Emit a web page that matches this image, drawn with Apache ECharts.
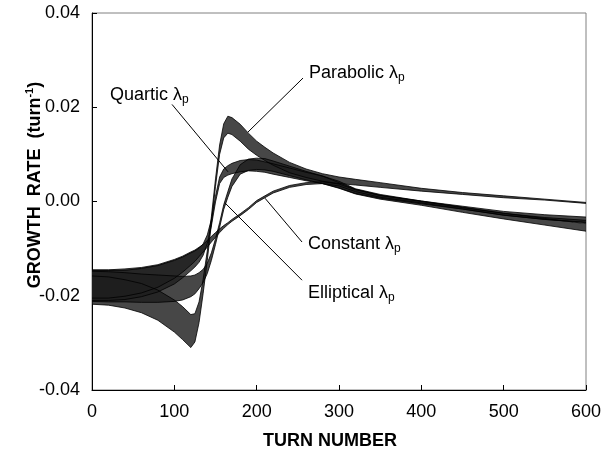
<!DOCTYPE html>
<html>
<head>
<meta charset="utf-8">
<script src="https://cdn.jsdelivr.net/npm/echarts@6/dist/echarts.min.js"></script>
<style>
html,body{margin:0;padding:0;background:#fff;}
#chart{width:613px;height:453px;}
</style>
</head>
<body>
<div id="chart"></div>
<script>
// ---- data ----
const turns = [0,20,40,60,80,100,110,120,125,130,135,140,145,150,155,160,165,170,180,190,200,210,220,240,260,280,300,320,350,400,450,500,550,600];

const parabolicMid  = [-0.0188,-0.0190,-0.0196,-0.0205,-0.0220,-0.0243,-0.0258,-0.0275,-0.0268,-0.0235,-0.0180,-0.0115,-0.0040,0.0040,0.0110,0.0150,0.0163,0.0160,0.0146,0.0128,0.0113,0.0101,0.0090,0.0072,0.0060,0.0051,0.0045,0.0041,0.0035,0.0025,0.0017,0.0010,0.0004,-0.0003];
const parabolicHalf = [0.0030,0.0030,0.0030,0.0031,0.0032,0.0034,0.0035,0.0035,0.0030,0.0022,0.0015,0.0010,0.0008,0.0008,0.0010,0.0015,0.0018,0.0018,0.0018,0.0017,0.0015,0.0014,0.0013,0.0011,0.0009,0.0008,0.0007,0.0006,0.0005,0.0003,0.0002,0.0002,0.0001,0.0001];

const quarticMid  = [-0.0178,-0.0178,-0.0177,-0.0172,-0.0164,-0.0150,-0.0140,-0.0128,-0.0122,-0.0114,-0.0102,-0.0080,-0.0045,0.0005,0.0045,0.0060,0.0066,0.0070,0.0075,0.0077,0.0076,0.0073,0.0069,0.0061,0.0053,0.0046,0.0036,0.0022,0.0011,-0.0002,-0.0013,-0.0025,-0.0033,-0.0039];
const quarticHalf = [0.0032,0.0032,0.0031,0.0030,0.0028,0.0025,0.0022,0.0019,0.0017,0.0015,0.0012,0.0009,0.0007,0.0006,0.0007,0.0009,0.0010,0.0011,0.0012,0.0012,0.0012,0.0011,0.0011,0.0010,0.0009,0.0008,0.0007,0.0005,0.0004,0.0003,0.0003,0.0004,0.0005,0.0006];

const ellipticalMid  = [-0.0180,-0.0181,-0.0182,-0.0184,-0.0185,-0.0185,-0.0184,-0.0180,-0.0176,-0.0168,-0.0158,-0.0142,-0.0117,-0.0085,-0.0050,-0.0012,0.0015,0.0040,0.0068,0.0078,0.0080,0.0079,0.0075,0.0065,0.0055,0.0046,0.0034,0.0021,0.0009,-0.0004,-0.0018,-0.0031,-0.0043,-0.0055];
const ellipticalHalf = [0.0032,0.0032,0.0031,0.0030,0.0029,0.0027,0.0025,0.0022,0.0020,0.0017,0.0014,0.0011,0.0008,0.0006,0.0005,0.0005,0.0006,0.0008,0.0010,0.0012,0.0012,0.0012,0.0011,0.0010,0.0009,0.0008,0.0006,0.0005,0.0004,0.0004,0.0005,0.0006,0.0007,0.0008];

const constantMid  = [-0.0175,-0.0175,-0.0172,-0.0167,-0.0158,-0.0143,-0.0133,-0.0121,-0.0115,-0.0107,-0.0099,-0.0090,-0.0080,-0.0071,-0.0062,-0.0054,-0.0047,-0.0040,-0.0028,-0.0015,0.0000,0.0010,0.0020,0.0032,0.0038,0.0040,0.0035,0.0023,0.0011,-0.0001,-0.0014,-0.0027,-0.0036,-0.0042];
const constantHalf = [0.0030,0.0030,0.0029,0.0027,0.0024,0.0020,0.0017,0.0014,0.0012,0.0010,0.0008,0.0007,0.0006,0.0005,0.0004,0.0003,0.0002,0.0002,0.0002,0.0002,0.0002,0.0002,0.0002,0.0002,0.0002,0.0002,0.0002,0.0002,0.0002,0.0002,0.0002,0.0002,0.0002,0.0002];

const xTicks = {min: 0, max: 600, interval: 100};
const yTicks = {min: -0.04, max: 0.04, interval: 0.02};

// ---- styling helpers ----
const FONT = 'Liberation Sans, Arial, sans-serif';

function bandSeries(name, mid, half) {
  const lower = turns.map((t,i) => [t, mid[i] - half[i]]);
  const upper = turns.map((t,i) => [t, mid[i] + half[i]]);
  const edge = {type:'line', showSymbol:false, symbol:'none', smooth:false,
    lineStyle:{color:'#000', width:0.8}, silent:true, z:3};
  const fill = {
    type:'custom', name:name+'-fill', silent:true, z:2,
    data: turns.map((t,i) => [t, mid[i]]),
    encode:{x:0, y:1},
    renderItem: function(params, api) {
      if (params.dataIndex !== 0) return null;
      const pts = [];
      for (let i = 0; i < upper.length; i++) pts.push(api.coord(upper[i]));
      for (let i = lower.length - 1; i >= 0; i--) pts.push(api.coord(lower[i]));
      return {type:'polygon', shape:{points:pts},
        style:{fill:'#1e1e1e', opacity:0.82}};
    }
  };
  return [
    fill,
    Object.assign({}, edge, {name:name+'-lo', data:lower}),
    Object.assign({}, edge, {name:name+'-hi', data:upper})
  ];
}

const series = [].concat(
  bandSeries('Parabolic', parabolicMid, parabolicHalf),
  bandSeries('Quartic', quarticMid, quarticHalf),
  bandSeries('Elliptical', ellipticalMid, ellipticalHalf),
  bandSeries('Constant', constantMid, constantHalf)
);

// leader lines (data coordinates)
series.push({
  type:'line', data:[], silent:true, z:5,
  markLine:{
    symbol:['none','none'], silent:true, animation:false,
    lineStyle:{color:'#000', width:1, type:'solid'},
    label:{show:false},
    data:[
      [{coord:[256.3,0.0262]},{coord:[189.5,0.01475]}],
      [{coord:[97.2,0.0206]},{coord:[165.2,0.0063]}],
      [{coord:[210.1,0.0007]},{coord:[255.1,-0.0086]}],
      [{coord:[161.5,-0.0003]},{coord:[255.1,-0.0167]}]
    ]
  }
});

const richLbl = {
  a:{fontSize:18, fontFamily:FONT, color:'#000', lineHeight:22},
  s:{fontSize:12, fontFamily:FONT, color:'#000', lineHeight:22, verticalAlign:'bottom'}
};
function lbl(x, y, txt) {
  return {type:'text', left:x, top:y, z:10,
    style:{text:'{a|'+txt+'}{s|p}', rich:richLbl, font:'18px '+FONT}};
}

const chart = echarts.init(document.getElementById('chart'), null, {renderer:'canvas'});
chart.setOption({
  animation:false,
  backgroundColor:'#fff',
  grid:{left:92, right:27, top:13, bottom:63, show:true, borderColor:'#808080', borderWidth:1, backgroundColor:'transparent'},
  xAxis:{
    type:'value', min:xTicks.min, max:xTicks.max, interval:xTicks.interval,
    axisLine:{show:true, onZero:false, lineStyle:{color:'#000', width:1}},
    axisTick:{show:true, inside:true, length:5, lineStyle:{color:'#000'}},
    axisLabel:{fontSize:18, fontFamily:FONT, color:'#000', margin:13},
    splitLine:{show:false}
  },
  yAxis:{
    type:'value', min:yTicks.min, max:yTicks.max, interval:yTicks.interval,
    axisLine:{show:true, onZero:false, lineStyle:{color:'#000', width:1}},
    axisTick:{show:true, inside:true, length:5, lineStyle:{color:'#000'}},
    axisLabel:{fontSize:18, fontFamily:FONT, color:'#000', margin:12, formatter:v => v.toFixed(2)},
    splitLine:{show:false}
  },
  graphic:[
    lbl(309, 64, 'Parabolic λ'),
    lbl(110, 86, 'Quartic λ'),
    lbl(308, 235, 'Constant λ'),
    lbl(308, 284, 'Elliptical λ'),
    {type:'text', left:263, top:432, z:10,
      style:{text:'TURN NUMBER', font:'bold 18px '+FONT, fill:'#000'}},
    {type:'text', x:35, y:185, rotation:Math.PI/2, z:10,
      style:{text:'{b|GROWTH  RATE  (turn}{u|-1}{b|)}', align:'center', verticalAlign:'middle',
        rich:{b:{fontSize:18, fontWeight:'bold', fontFamily:FONT, color:'#000', lineHeight:22},
              u:{fontSize:11, fontWeight:'bold', fontFamily:FONT, color:'#000', lineHeight:22, verticalAlign:'top'}}}}
  ],
  series: series
});
</script>
</body>
</html>
